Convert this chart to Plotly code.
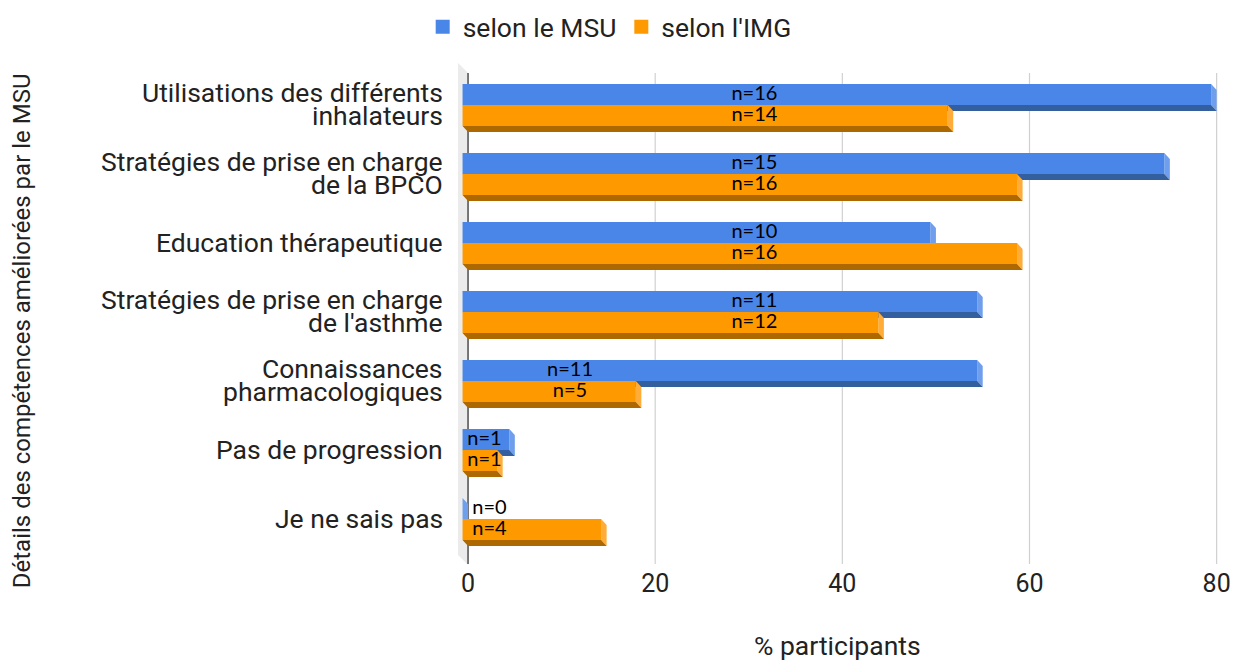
import plotly.graph_objects as go

categories = [
    "Utilisations des différents<br>inhalateurs",
    "Stratégies de prise en charge<br>de la BPCO",
    "Education thérapeutique",
    "Stratégies de prise en charge<br>de l'asthme",
    "Connaissances<br>pharmacologiques",
    "Pas de progression",
    "Je ne sais pas",
]
msu_pct = [80, 75, 50, 55, 55, 5, 0]
img_pct = [51.85, 59.26, 59.26, 44.44, 18.52, 3.70, 14.81]
msu_n = ["n=16", "n=15", "n=10", "n=11", "n=11", "n=1", "n=0"]
img_n = ["n=14", "n=16", "n=16", "n=12", "n=5", "n=1", "n=4"]
label_anchor = [30.6, 30.6, 30.6, 30.6, 10.9, 1.76, 2.3]
x_ticks = [0, 20, 40, 60, 80]

# geometry (data units)
PX_X = 9.3625          # px per x unit
PX_Y = 69.0            # px per category
D = 5.5 / PX_X         # 3D depth in x
E = 6.0 / PX_Y         # 3D depth in y
W = 21.0 / PX_Y        # bar thickness

BLUE = ("#4a86e8", "#6f9eec", "#345f9f")
ORANGE = ("#ff9900", "#ffad38", "#ad6800")
TXT = "#222222"
FS = 26.5

fig = go.Figure()

# back wall
wx = [-10 / PX_X, 0, 0, -10 / PX_X, -10 / PX_X]
wy = [(63 - 105) / PX_Y, (73 - 105) / PX_Y, (565 - 105) / PX_Y, (555 - 105) / PX_Y, (63 - 105) / PX_Y]
fig.add_trace(go.Scatter(x=wx, y=wy, fill="toself", fillcolor="#ebebeb", mode="lines",
                         line=dict(width=0), hoverinfo="skip", showlegend=False))

# gridlines
gy0, gy1 = (73 - 105) / PX_Y, (564 - 105) / PX_Y
gx, gyy = [], []
for t in x_ticks[1:]:
    gx += [t, t, None]
    gyy += [gy0, gy1, None]
fig.add_trace(go.Scatter(x=gx, y=gyy, mode="lines", line=dict(color="#d0d0d0", width=1.2),
                         hoverinfo="skip", showlegend=False))
fig.add_trace(go.Scatter(x=[0, 0], y=[gy0, gy1], mode="lines", line=dict(color="#333333", width=1.3),
                         hoverinfo="skip", showlegend=False))


def add_series(values, top_offset, colors):
    front, side, bottom = colors
    sx, sy, bx, by, fx, fy = [], [], [], [], [], []
    for i, v in enumerate(values):
        y_top = i + top_offset
        y_bot = y_top + W
        sx += [v - D, v, v, v - D, v - D, None]
        sy += [y_top, y_top + E, y_bot + E, y_bot, y_top, None]
        bx += [-D, v - D, v, 0, -D, None]
        by += [y_bot, y_bot, y_bot + E, y_bot + E, y_bot, None]
        fx += [-D, v - D, v - D, -D, -D, None]
        fy += [y_top, y_top, y_bot, y_bot, y_top, None]
    for xs, ys, c in ((sx, sy, side), (bx, by, bottom), (fx, fy, front)):
        fig.add_trace(go.Scatter(x=xs, y=ys, fill="toself", fillcolor=c, mode="lines",
                                 line=dict(width=0), hoverinfo="skip", showlegend=False))


add_series(msu_pct, -W, BLUE)
add_series(img_pct, 0, ORANGE)

# value labels
fig.add_trace(go.Scatter(x=label_anchor, y=[i - W / 2 for i in range(len(categories))], text=msu_n,
                         mode="text", textfont=dict(family="Lato", size=20, color="#000000"),
                         hoverinfo="skip", showlegend=False))
fig.add_trace(go.Scatter(x=label_anchor, y=[i + W / 2 for i in range(len(categories))], text=img_n,
                         mode="text", textfont=dict(family="Lato", size=20, color="#000000"),
                         hoverinfo="skip", showlegend=False))

# legend entries
fig.add_trace(go.Scatter(x=[None], y=[None], mode="markers", name="selon le MSU",
                         marker=dict(symbol="square", size=14, color=BLUE[0])))
fig.add_trace(go.Scatter(x=[None], y=[None], mode="markers", name="selon l'IMG",
                         marker=dict(symbol="square", size=14, color=ORANGE[0])))

L, R, T, B = 454, 1226.4, 55, 566
PW, PH = R - L, B - T

annotations = [
    dict(text="% participants", xref="paper", yref="paper", x=(838 - L) / PW, y=(B - 645) / PH,
         xanchor="center", yanchor="middle", showarrow=False, font=dict(size=26.5, color=TXT)),
    dict(text="Détails des compétences améliorées par le MSU", xref="paper", yref="paper",
         x=(22 - L) / PW, y=(B - 331) / PH, xanchor="center", yanchor="middle",
         textangle=-90, showarrow=False, font=dict(size=24, color=TXT)),
]
# category labels (one annotation per line for tight line spacing)
for i, cat in enumerate(categories):
    lines = cat.split("<br>")
    shifts = [0] if len(lines) == 1 else [12, -11]
    for line, s in zip(lines, shifts):
        annotations.append(dict(text=line, xref="paper", yref="y", x=(445 - L) / PW, y=i,
                                yshift=s + 1, xanchor="right", yanchor="middle", showarrow=False,
                                font=dict(size=FS, color=TXT)))

fig.update_layout(
    width=1243, height=660,
    margin=dict(l=L, r=1243 - R, t=T, b=660 - B, autoexpand=False),
    plot_bgcolor="white", paper_bgcolor="white",
    font=dict(family="Roboto", size=FS, color=TXT),
    showlegend=True,
    legend=dict(orientation="h", xref="container", yref="container", x=0.4905, xanchor="center",
                y=1 - 27 / 660, yanchor="middle", font=dict(size=26.5, color=TXT),
                itemclick=False, itemdoubleclick=False),
    xaxis=dict(range=[-1.5, 81], tickvals=x_ticks, showgrid=False, zeroline=False, showline=False,
               ticks="", tickfont=dict(size=25, color=TXT)),
    yaxis=dict(range=[(B - 105) / PX_Y, -(105 - T) / PX_Y], tickvals=list(range(len(categories))),
               showticklabels=False, showgrid=False, zeroline=False, showline=False),
    annotations=annotations,
)

fig.write_html("out.html", config={"displayModeBar": False},
               post_script="document.body.style.margin='0px';")
